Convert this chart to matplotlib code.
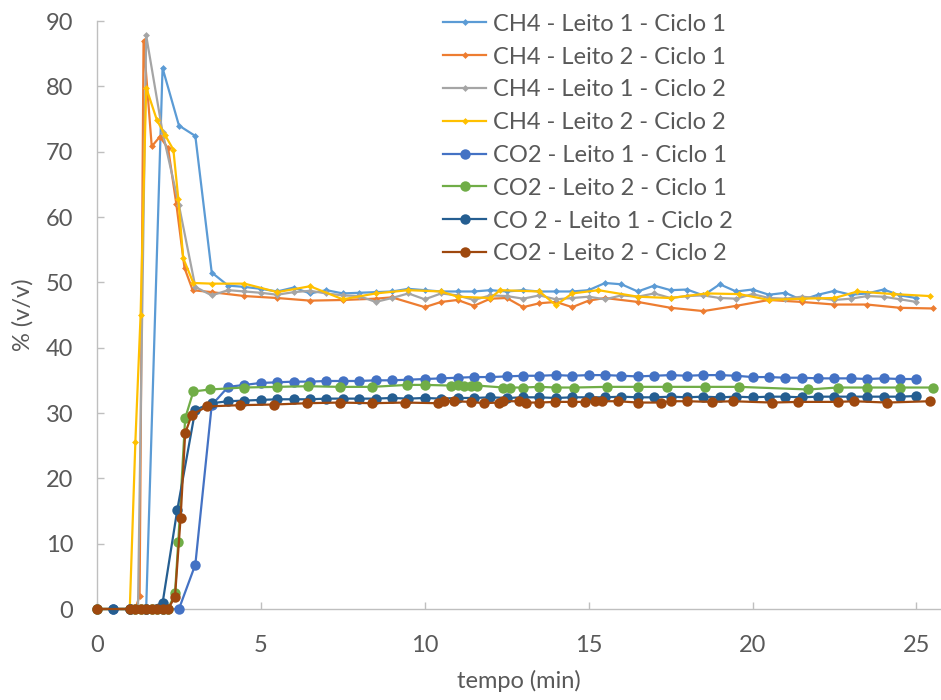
import matplotlib
matplotlib.use("Agg")
import matplotlib.pyplot as plt

plt.rcParams['font.family'] = ['Lato', 'DejaVu Sans']

# ---------------- data ----------------
plateau_t = [4.0 + 0.5 * i for i in range(43)]  # 4.0 .. 25.0 grid used by Leito 1 series

ch4_l1c1_t = [0, 0.5, 1.0, 1.5, 2.0, 2.5, 3.0, 3.5] + plateau_t
ch4_l1c1_v = [0, 0, 0, 0, 82.8, 74.0, 72.4, 51.5,
              49.5, 49.3, 49.0, 48.6, 49.2, 48.3, 48.8, 48.3, 48.4, 48.5,
              48.6, 49.0, 48.8, 48.6, 48.6, 48.6, 48.8, 48.6, 48.8, 48.6,
              48.6, 48.6, 48.8, 49.9, 49.7, 48.6, 49.5, 48.8, 48.9, 48.0,
              49.7, 48.6, 48.9, 48.1, 48.4, 47.3, 48.1, 48.7, 48.1, 48.3,
              48.9, 48.0, 47.6]

ch4_l2c1_t = [0, 1.0, 1.17, 1.3, 1.42, 1.67, 1.92, 2.17, 2.42, 2.67, 2.92,
              3.5, 4.5, 5.5, 6.5, 7.5, 8.5, 9.0, 10.0, 10.5, 11.0, 11.5, 12.0,
              12.5, 13.0, 13.5, 14.0, 14.5, 15.0, 15.5, 16.5, 17.5, 18.5, 19.5,
              20.5, 21.5, 22.5, 23.5, 24.5, 25.5]
ch4_l2c1_v = [0, 0, 0, 2.0, 87.0, 70.8, 72.3, 70.5, 62.0, 52.2, 48.8,
              48.5, 47.9, 47.6, 47.2, 47.3, 47.5, 47.7, 46.2, 47.0, 47.3, 46.4, 47.5,
              47.6, 46.2, 46.8, 47.0, 46.2, 47.2, 47.6, 47.0, 46.1, 45.6, 46.4,
              47.3, 47.0, 46.6, 46.6, 46.1, 46.0]

ch4_l1c2_t = [0, 0.5, 1.0, 1.25, 1.5, 2.0, 2.5, 3.0, 3.5] + plateau_t
ch4_l1c2_v = [0, 0, 0, 0, 87.8, 73.0, 61.8, 49.3, 48.0,
              48.8, 48.6, 48.4, 48.1, 48.5, 48.7, 48.3, 48.0, 47.9, 47.0,
              47.6, 48.3, 47.4, 48.3, 48.0, 47.3, 48.0, 47.9, 47.5, 48.0,
              47.4, 47.6, 47.8, 47.4, 48.0, 47.8, 48.3, 47.6, 47.9, 48.0,
              47.6, 47.5, 48.2, 47.6, 47.5, 47.8, 47.6, 47.3, 47.5, 47.9,
              47.8, 47.4, 47.0]

ch4_l2c2_t = [0, 1.0, 1.17, 1.33, 1.5, 1.83, 2.08, 2.33, 2.48, 2.63, 2.94,
              3.5, 4.5, 5.5, 6.5, 7.5, 8.5, 9.5, 10.5, 11.0, 12.0, 12.3, 13.5,
              14.0, 14.5, 15.3, 16.5, 17.5, 18.6, 19.6, 20.5, 21.5, 22.5, 23.2,
              24.3, 25.4]
ch4_l2c2_v = [0, 0, 25.5, 45.0, 79.8, 74.8, 72.5, 70.3, 62.8, 53.7, 49.9,
              49.8, 49.8, 48.5, 49.4, 47.4, 48.3, 48.8, 48.6, 47.8, 47.6, 48.8, 48.6,
              46.5, 48.3, 48.8, 47.8, 47.6, 48.3, 48.2, 47.3, 47.5, 47.6, 48.6,
              48.2, 47.9]

co2_l1c1_t = [0, 0.5, 1.0, 1.5, 2.0, 2.5, 3.0, 3.5] + plateau_t
co2_l1c1_v = [0, 0, 0, 0, 0, 0, 6.8, 31.2,
              34.0, 34.3, 34.6, 34.7, 34.8, 34.8, 34.9, 34.9, 34.9, 35.0,
              35.0, 35.1, 35.2, 35.3, 35.4, 35.5, 35.5, 35.6, 35.7, 35.7,
              35.8, 35.7, 35.8, 35.8, 35.7, 35.6, 35.7, 35.8, 35.7, 35.8,
              35.8, 35.7, 35.5, 35.5, 35.4, 35.4, 35.3, 35.3, 35.3, 35.2,
              35.3, 35.2, 35.2]

co2_l2c1_t = [0, 1.0, 1.17, 1.33, 1.5, 1.67, 1.83, 2.0, 2.17, 2.38, 2.48, 2.69,
              2.94, 3.45, 4.47, 5.48, 6.45, 7.4, 8.4, 9.45, 10.0, 10.8, 11.0, 11.2,
              11.4, 11.6, 12.4, 12.6, 13.0, 13.5, 14.0, 14.55, 15.55, 16.5, 17.4,
              18.55, 19.6, 21.7, 22.6, 23.5, 24.5, 25.5]
co2_l2c1_v = [0, 0, 0, 0, 0, 0, 0, 0, 0, 2.4, 10.3, 29.2,
              33.3, 33.6, 33.9, 34.0, 34.1, 34.0, 34.0, 34.3, 34.3, 34.2, 34.3, 34.2,
              34.2, 34.2, 33.9, 33.9, 33.9, 34.0, 33.9, 33.9, 34.0, 34.0, 34.0,
              34.0, 34.0, 33.6, 33.9, 33.9, 33.9, 33.9]

co2_l1c2_t = [0.5, 1.0, 1.5, 2.0, 2.45, 3.0, 3.5] + plateau_t
co2_l1c2_v = [0, 0, 0, 0.9, 15.2, 30.5, 31.5,
              31.8, 31.9, 32.0, 32.1, 32.1, 32.1, 32.2, 32.2, 32.2, 32.2,
              32.3, 32.2, 32.3, 32.2, 32.3, 32.3, 32.4, 32.3, 32.4, 32.4,
              32.3, 32.4, 32.4, 32.4, 32.5, 32.4, 32.4, 32.5, 32.4, 32.5,
              32.4, 32.5, 32.4, 32.5, 32.5, 32.4, 32.5, 32.5, 32.5, 32.5,
              32.5, 32.5, 32.6]

co2_l2c2_t = [0, 1.0, 1.17, 1.33, 1.5, 1.67, 1.83, 2.0, 2.17, 2.38, 2.55, 2.69,
              2.89, 3.35, 4.37, 5.4, 6.42, 7.4, 8.4, 9.4, 10.4, 10.6, 10.9, 11.4,
              11.8, 12.25, 12.4, 12.86, 13.1, 13.5, 13.98, 14.5, 14.9, 15.2, 15.4,
              15.9, 16.5, 17.2, 17.5, 18.0, 18.76, 19.4, 20.6, 21.4, 22.6, 23.1,
              24.1, 25.4]
co2_l2c2_v = [0, 0, 0, 0, 0, 0, 0, 0, 0, 1.9, 13.9, 26.9,
              29.7, 31.0, 31.2, 31.3, 31.5, 31.6, 31.5, 31.6, 31.5, 31.8, 31.8, 31.7,
              31.5, 31.6, 31.8, 31.8, 31.6, 31.6, 31.7, 31.7, 31.7, 31.8, 31.8,
              31.8, 31.6, 31.6, 31.8, 31.8, 31.7, 31.8, 31.6, 31.7, 31.7, 31.8,
              31.6, 31.8]

series = [
    ("CH4 - Leito 1 - Ciclo 1", ch4_l1c1_t, ch4_l1c1_v, "#5B9BD5", "D"),
    ("CH4 - Leito 2 - Ciclo 1", ch4_l2c1_t, ch4_l2c1_v, "#ED7D31", "D"),
    ("CH4 - Leito 1 - Ciclo 2", ch4_l1c2_t, ch4_l1c2_v, "#A5A5A5", "D"),
    ("CH4 - Leito 2 - Ciclo 2", ch4_l2c2_t, ch4_l2c2_v, "#FFC000", "D"),
    ("CO2 - Leito 1 - Ciclo 1", co2_l1c1_t, co2_l1c1_v, "#4472C4", "o"),
    ("CO2 - Leito 2 - Ciclo 1", co2_l2c1_t, co2_l2c1_v, "#70AD47", "o"),
    ("CO 2 - Leito 1 - Ciclo 2", co2_l1c2_t, co2_l1c2_v, "#255E91", "o"),
    ("CO2 - Leito 2 - Ciclo 2", co2_l2c2_t, co2_l2c2_v, "#9E480E", "o"),
]

# ---------------- figure ----------------
FS = 17
fig = plt.figure(figsize=(9.41, 7.0), dpi=100)
ax = fig.add_axes([97 / 941, 91 / 700, 1 - 97 / 941, 588 / 700])

for label, t, v, color, mk in series:
    ms = 3.5 if mk == "D" else 7.5
    ax.plot(t, v, color=color, lw=1.6, marker=mk, markersize=ms,
            markeredgewidth=0, label=label, clip_on=False, zorder=3)

ax.set_xlim(0, 25.75)
ax.set_ylim(0, 90)
ax.set_xticks([0, 5, 10, 15, 20, 25])
ax.set_yticks(range(0, 91, 10))

for s in ["top", "right"]:
    ax.spines[s].set_visible(False)
for s in ["left", "bottom"]:
    ax.spines[s].set_color("#BFBFBF")
    ax.spines[s].set_linewidth(1.0)

ax.tick_params(axis="both", direction="in", length=5, width=1,
               color="#BFBFBF", labelsize=FS, labelcolor="#595959")
ax.tick_params(axis="x", pad=19)
ax.tick_params(axis="y", pad=17)

ax.set_xlabel("tempo (min)", fontsize=FS, color="#595959", labelpad=10)
ax.set_ylabel("% (v/v)", fontsize=FS, color="#595959", labelpad=9)

leg = ax.legend(loc="upper left", bbox_to_anchor=(438 / 941, 691 / 700), bbox_transform=fig.transFigure,
                frameon=False, fontsize=FS, handlelength=1.85, handletextpad=0.3,
                labelspacing=0.5, borderpad=0.2, borderaxespad=0)
for txt in leg.get_texts():
    txt.set_color("#595959")

fig.savefig("out.png", dpi=100)
